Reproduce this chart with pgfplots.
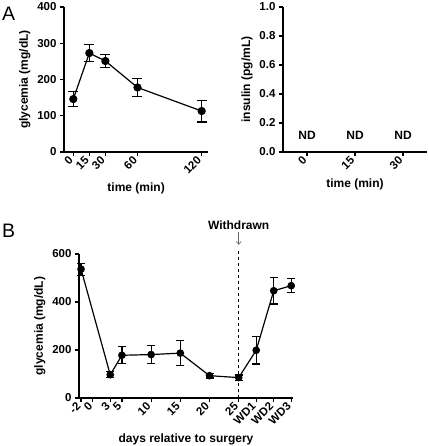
\documentclass[border=0pt]{standalone}
\usepackage{fontspec}
\setmainfont{Liberation Sans}
\usepackage{pgfplots}
\pgfplotsset{compat=1.18}
\usetikzlibrary{arrows.meta}

\pgfplotsset{gp/.style={
  scale only axis,
  axis x line*=bottom, axis y line*=left,
  axis line style={line width=1.2pt, -},
  every tick/.style={line width=1.2pt, black},
  tick align=outside,
  major tick length=4pt,
  tick label style={font=\bfseries\fontsize{11.5}{13}\selectfont},
  label style={font=\bfseries\fontsize{12}{14}\selectfont},
  /pgf/number format/assume math mode=true,
  x tick label style={rotate=45, anchor=east},
  clip=false,
}}

\begin{document}
\begin{tikzpicture}
\path[use as bounding box] (0,0) rectangle (428pt,-446pt);

% Panel A left
\begin{axis}[gp,
  at={(64pt,-152pt)}, anchor=south west,
  width=144.3pt, height=145pt,
  xmin=-8.7, xmax=126.2, ymin=0, ymax=400,
  xtick={0,15,30,60,120}, ytick={0,100,200,300,400},
  xlabel={time (min)}, ylabel={glycemia (mg/dL)},
]
\addplot[black, line width=1.2pt, mark=*, mark size=3.5pt,
  error bars/.cd, y dir=both, y explicit,
  error bar style={line width=1.2pt},
  error mark options={rotate=90, mark size=5pt, line width=1.2pt}]
  table[x=x, y=y, y error=e] {
x y e
0 146 21
15 273 23
30 251 18
60 178 24
120 113 30
};
\end{axis}

% Panel A right
\begin{axis}[gp,
  at={(283pt,-152pt)}, anchor=south west,
  width=144pt, height=145pt,
  xmin=-0.5, xmax=2.5, ymin=0, ymax=1,
  xtick={0,1,2}, xticklabels={0,15,30},
  ytick={0,0.2,0.4,0.6,0.8,1.0},
  yticklabel style={/pgf/number format/.cd, fixed, fixed zerofill, precision=1},
  xlabel={time (min)}, ylabel={insulin (pg/mL)},
]
\addplot[draw=none, mark=none,
  nodes near coords={ND},
  every node near coord/.append style={anchor=center, font=\bfseries\fontsize{12}{14}\selectfont}]
  coordinates {(0,0.117) (1,0.117) (2,0.117)};
\end{axis}

% Panel B
\begin{axis}[gp,
  at={(79pt,-398pt)}, anchor=south west,
  width=214pt, height=144pt,
  xmin=-2.35, xmax=34.3, ymin=0, ymax=600,
  xtick={-2,0,3,5,10,15,20,25,28,31,34},
  xticklabels={-2,0,3,5,10,15,20,25,WD1,WD2,WD3},
  ytick={0,200,400,600},
  xlabel={days relative to surgery}, ylabel={glycemia (mg/dL)},
]
\draw[dashed, line width=1pt] (axis cs:25,0) -- (axis cs:25,612);
\draw[-{Straight Barb[length=3pt,width=5pt]}, line width=0.6pt, black!60]
  (axis cs:25,690) -- (axis cs:25,638);
\node[font=\bfseries\fontsize{12}{14}\selectfont] at (axis cs:25,718) {Withdrawn};
\addplot[black, line width=1.2pt, mark=*, mark size=3.2pt,
  error bars/.cd, y dir=both, y explicit,
  error bar style={line width=1.2pt},
  error mark options={rotate=90, mark size=4pt, line width=1.2pt}]
  table[x=x, y=y, y error=e] {
x y e
-2 537 25
3 97 12
5 178 35
10 181 37
15 187 53
20 93 10
25 85 11
28 199 57
31 447 55
34 468 29
};
\end{axis}

\node[anchor=base west, inner sep=0, font=\fontsize{19.5}{22}\selectfont] at (2pt,-21pt) {A};
\node[anchor=base west, inner sep=0, font=\fontsize{19.5}{22}\selectfont] at (2pt,-237pt) {B};
\end{tikzpicture}
\end{document}
